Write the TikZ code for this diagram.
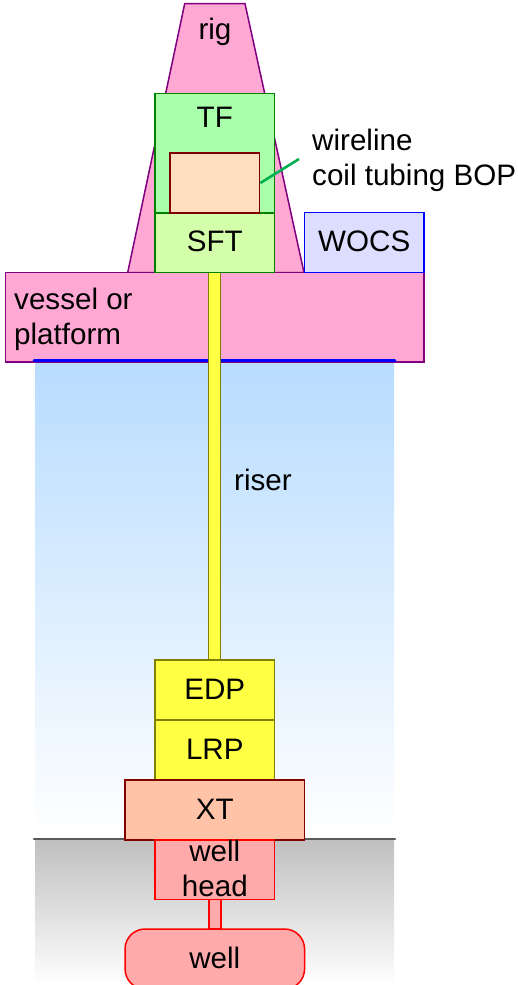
\documentclass[tikz,border=0pt]{standalone}
\usepackage{fontspec}
\setmainfont{Liberation Sans}
\definecolor{rigfill}{HTML}{FFA8D4}
\definecolor{tffill}{HTML}{AAFFAA}
\definecolor{sftfill}{HTML}{D4FFAA}
\definecolor{bopfill}{HTML}{FFDDBF}
\definecolor{wocsfill}{HTML}{DDDDFF}
\definecolor{waterfill}{HTML}{B8DCFF}
\definecolor{yellowfill}{HTML}{FFFF44}
\definecolor{xtfill}{HTML}{FFC4A8}
\definecolor{wellfill}{HTML}{FFAAAA}
\definecolor{leadgreen}{HTML}{00B050}
\definecolor{purpleline}{HTML}{800080}
\definecolor{greenline}{HTML}{008000}
\definecolor{redline}{HTML}{800000}
\definecolor{oliveline}{HTML}{808000}
\tikzset{
  txt/.style={font=\fontsize{29.6}{35}\selectfont, text=black, inner sep=0pt},
  box/.style={txt, draw, rectangle, line width=1.5pt, minimum width=#1, text height=21pt, text depth=3pt},
  box/.default=119.7pt,
  rigstyle/.style={draw=purpleline, fill=rigfill, line width=1.5pt, line join=miter},
  tfbox/.style={box, draw=greenline, fill=tffill},
  sftbox/.style={box, draw=greenline, fill=sftfill},
  yellowbox/.style={box, draw=oliveline, fill=yellowfill},
  redbox/.style={draw=red, fill=wellfill},
}
\begin{document}
\begin{tikzpicture}[x=1pt,y=-1pt]
\useasboundingbox (0,0) rectangle (517,985);
% sea and ground
\node[rectangle, inner sep=0pt, minimum width=359pt, minimum height=478pt, top color=waterfill, bottom color=white] (water) at (214.5,600) {};
\node[rectangle, inner sep=0pt, minimum width=359pt, minimum height=146pt, top color=black!25, bottom color=white] (ground) at (214.5,912) {};
\coordinate (gl) at (34,839);
\coordinate (gr) at (395,839);
\draw[line width=2.6pt, draw=black!65, line cap=round] (gl) -- (gr);
% rig
\draw[rigstyle] (127.7,272.5) -- (184.7,3.7) -- (245,3.7) -- (304,272.5) -- cycle;
\node[txt, anchor=base] (rig) at (215,39.5) {rig};
% vessel
\node[box=418.5pt, minimum height=89.5pt, draw=purpleline, fill=rigfill] (vessel) at (214.7,317.2) {};
\node[txt, anchor=base west] (vtext) at (14,309) {vessel or};
\node[txt, anchor=base west] (ptext) at (14,344) {platform};
\coordinate (bl) at (34,360.5);
\coordinate (br) at (395,360.5);
\draw[line width=2.6pt, draw=blue, line cap=round] (bl) -- (br);
% riser
\node[rectangle, draw=oliveline, fill=yellowfill, line width=1.5pt, inner sep=0pt, minimum width=12pt, minimum height=388pt] (riser) at (214.7,466.5) {};
\node[txt, anchor=base west] (risertext) at (234,490) {riser};
% rig equipment
\node[box, draw=greenline, fill=tffill, minimum height=119.4pt] (tf) at (214.8,153) {};
\node[txt, anchor=base] (tftext) at (214.8,127) {TF};
\node[box, draw=greenline, fill=sftfill, minimum height=59.7pt] (sft) at (214.8,242.6) {SFT};
\node[rectangle, draw=redline, fill=bopfill, line width=1.5pt, inner sep=0pt, minimum width=89.7pt, minimum height=60pt] (bop) at (214.8,183) {};
\node[box=119.7pt, minimum height=59.8pt, draw=blue, fill=wocsfill] (wocs) at (364.2,242.6) {WOCS};
% lead
\coordinate (lead) at (299,159);
\draw[line width=2.6pt, draw=leadgreen] (bop.east) -- (lead);
\node[txt, anchor=base west] (wl) at (312,150) {wireline};
\node[txt, anchor=base west] (ct) at (312,185) {coil tubing BOP};
% subsea stack
\node[box, draw=oliveline, fill=yellowfill, minimum height=60pt] (edp) at (214.8,690) {EDP};
\node[box, draw=oliveline, fill=yellowfill, minimum height=60pt] (lrp) at (214.8,750) {LRP};
\node[box=179.5pt, minimum height=60pt, draw=redline, fill=xtfill] (xt) at (214.8,810) {XT};
\node[box, redbox, minimum height=59.6pt] (wh) at (214.8,869.8) {};
\node[txt, anchor=base] (w1) at (214.8,861) {well};
\node[txt, anchor=base] (w2) at (214.8,896) {head};
\node[rectangle, redbox, line width=1.5pt, inner sep=0pt, minimum width=12pt, minimum height=29.5pt] (pipe) at (214.8,914.4) {};
\node[box=179.5pt, rounded corners=20pt, minimum height=60pt, redbox] (well) at (214.8,959) {well};
\end{tikzpicture}
\end{document}
